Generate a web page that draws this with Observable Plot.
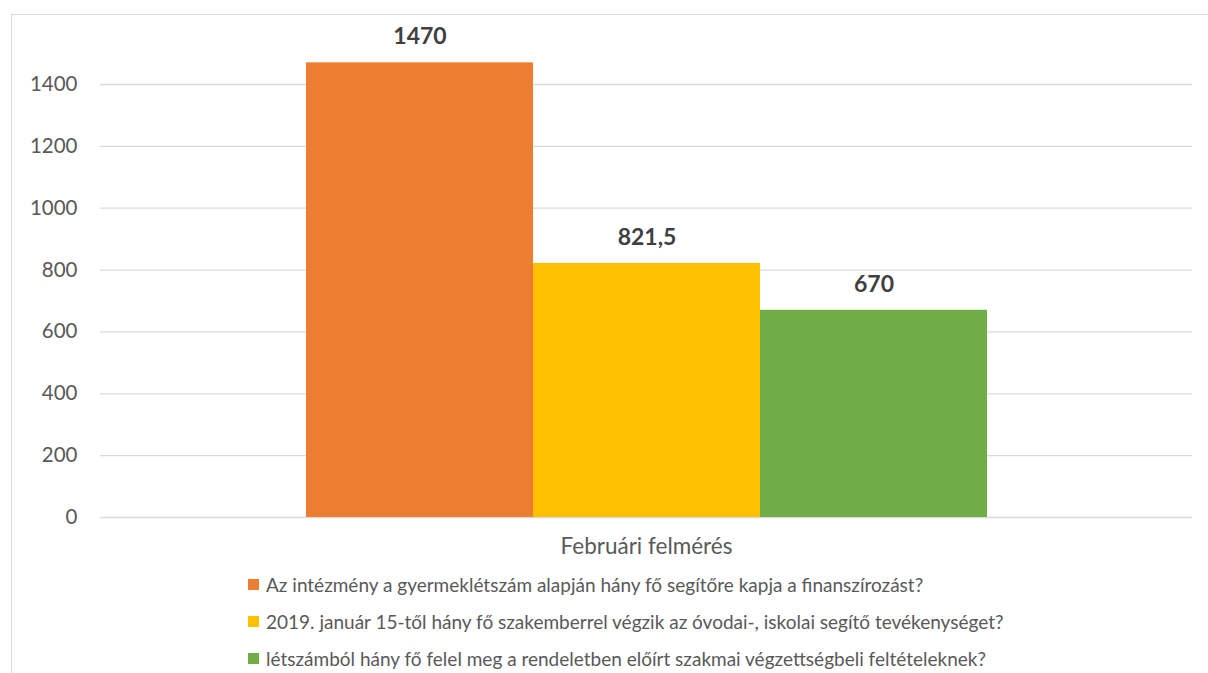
<!DOCTYPE html>
<html>
<head>
<meta charset="utf-8">
<script src="https://cdn.jsdelivr.net/npm/d3@7"></script>
<script src="https://cdn.jsdelivr.net/npm/@observablehq/plot@0.6"></script>
<style>
  html, body { margin: 0; padding: 0; background: #fff; overflow: hidden; }
  body { width: 1208px; height: 673px; position: relative; font-family: Lato, "Open Sans", sans-serif; }
  #frame { position: absolute; left: 11px; top: 14px; width: 1220px; height: 700px; border: 1.5px solid #d9d9d9; box-sizing: border-box; }
  #chart { position: absolute; left: 0; top: 0; }
  #legend { position: absolute; left: 248px; top: 566px; }
  .row { display: flex; align-items: center; height: 37px; font-size: 19px; color: #595959; white-space: nowrap; }
  .sw { width: 11px; height: 11px; margin-right: 7px; flex: none; }
</style>
</head>
<body>
<div id="frame"></div>
<div id="chart"></div>
<div id="legend"></div>
<script>
const category = "Februári felmérés";
const series = [
  "Az intézmény a gyermeklétszám alapján hány fő segítőre kapja a finanszírozást?",
  "2019. január 15-től hány fő szakemberrel végzik az óvodai-, iskolai segítő tevékenységet?",
  "létszámból hány fő felel meg a rendeletben előírt szakmai végzettségbeli feltételeknek?"
];
const values = [1470, 821.5, 670];
const colors = ["#ED7D31", "#FFC000", "#70AD47"];
const yTicks = [0, 200, 400, 600, 800, 1000, 1200, 1400];

const data = series.map((s, i) => ({category, series: s, value: values[i]}));
const fmt = v => String(v).replace(".", ",");

const chart = Plot.plot({
  width: 1208,
  height: 560,
  marginLeft: 100,
  marginRight: 16,
  marginTop: 84,
  marginBottom: 43,
  style: {fontFamily: "Lato, 'Open Sans', sans-serif", background: "transparent"},
  fx: {domain: [category], padding: 0, label: null, axis: null},
  x: {domain: series, paddingInner: 0, paddingOuter: 0.895, axis: null},
  y: {domain: [0, 1400], axis: null},
  color: {domain: series, range: colors},
  marks: [
    Plot.ruleY(yTicks, {stroke: "#d9d9d9", strokeWidth: 1.3}),
    Plot.axisY({ticks: yTicks, tickSize: 0, tickPadding: 23, label: null, fontSize: 20.5, fill: "#595959", tickFormat: d => String(d)}),
    Plot.axisFx({anchor: "bottom", tickSize: 0, tickPadding: 21, label: null, fontSize: 22.5, fill: "#595959"}),
    Plot.barY(data, {fx: "category", x: "series", y: "value", fill: "series"}),
    Plot.text(data, {fx: "category", x: "series", y: "value", text: d => fmt(d.value), dy: -26, fontSize: 23, fontWeight: "bold", fill: "#404040"})
  ]
});
document.getElementById("chart").appendChild(chart);

const legend = document.getElementById("legend");
series.forEach((s, i) => {
  const row = document.createElement("div");
  row.className = "row";
  const sw = document.createElement("span");
  sw.className = "sw";
  sw.style.background = colors[i];
  const t = document.createElement("span");
  t.textContent = s;
  row.appendChild(sw);
  row.appendChild(t);
  legend.appendChild(row);
});
</script>
</body>
</html>
